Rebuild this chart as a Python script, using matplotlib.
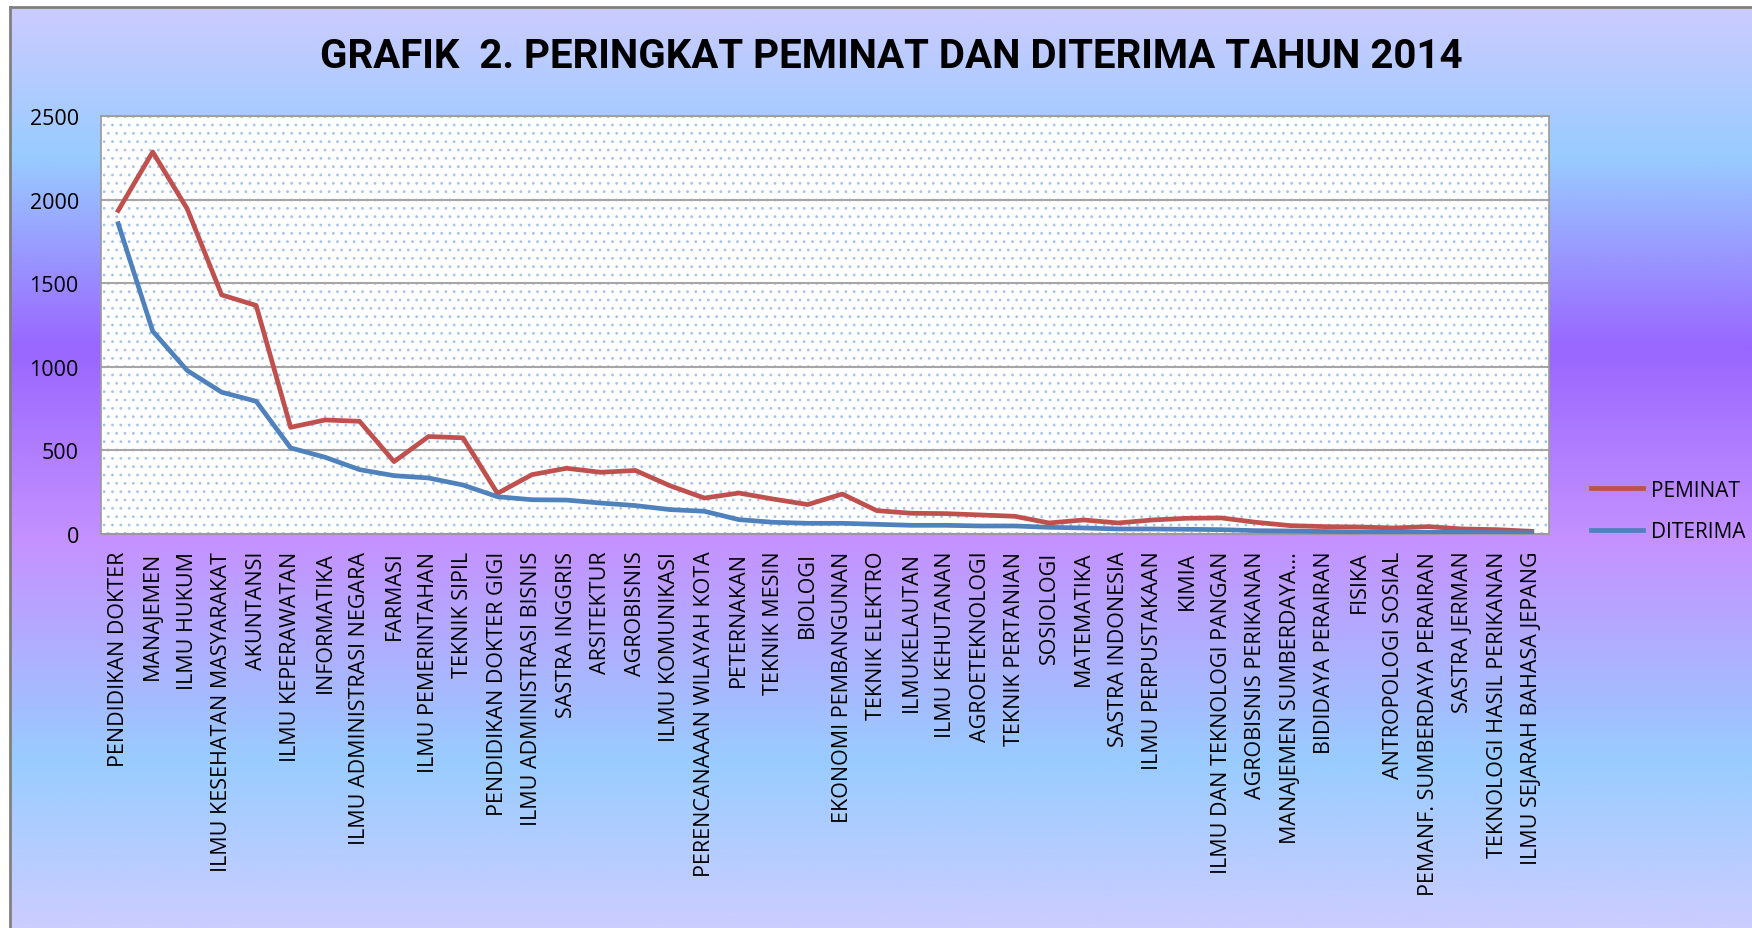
import numpy as np
import matplotlib
matplotlib.use("Agg")
import matplotlib.pyplot as plt
from matplotlib.colors import LinearSegmentedColormap
from matplotlib.patches import Rectangle

# program studi (urut peringkat peminat)
prodi = [
    "PENDIDIKAN DOKTER", "MANAJEMEN", "ILMU HUKUM", "ILMU KESEHATAN MASYARAKAT",
    "AKUNTANSI", "ILMU KEPERAWATAN", "INFORMATIKA", "ILMU ADMINISTRASI NEGARA",
    "FARMASI", "ILMU PEMERINTAHAN", "TEKNIK SIPIL", "PENDIDIKAN DOKTER GIGI",
    "ILMU ADMINISTRASI BISNIS", "SASTRA INGGRIS", "ARSITEKTUR", "AGROBISNIS",
    "ILMU KOMUNIKASI", "PERENCANAAAN WILAYAH KOTA", "PETERNAKAN", "TEKNIK MESIN",
    "BIOLOGI", "EKONOMI PEMBANGUNAN", "TEKNIK ELEKTRO", "ILMUKELAUTAN",
    "ILMU KEHUTANAN", "AGROETEKNOLOGI", "TEKNIK PERTANIAN", "SOSIOLOGI",
    "MATEMATIKA", "SASTRA INDONESIA", "ILMU PERPUSTAKAAN", "KIMIA",
    "ILMU DAN TEKNOLOGI PANGAN", "AGROBISNIS PERIKANAN", "MANAJEMEN SUMBERDAYA...",
    "BIDIDAYA PERAIRAN", "FISIKA", "ANTROPOLOGI SOSIAL", "PEMANF. SUMBERDAYA PERAIRAN",
    "SASTRA JERMAN", "TEKNOLOGI HASIL PERIKANAN", "ILMU SEJARAH BAHASA JEPANG",
]

peminat = [1935, 2285, 1945, 1430, 1367, 638, 682, 674, 433, 583,
           575, 243, 355, 393, 369, 380, 289, 215, 245, 209,
           176, 239, 140, 124, 122, 114, 106, 66, 84, 66,
           84, 94, 96, 70, 50, 44, 42, 36, 44, 30,
           26, 16]

diterima = [1856, 1213, 978, 848, 794, 515, 459, 385, 349, 335,
            293, 223, 205, 203, 185, 170, 146, 136, 86, 70,
            64, 64, 58, 52, 52, 48, 48, 40, 36, 30,
            30, 28, 26, 20, 18, 15, 12, 12, 10, 10,
            8, 7]

yticks = [0, 500, 1000, 1500, 2000, 2500]

plt.rcParams["hatch.linewidth"] = 0.8

fig = plt.figure(figsize=(17.52, 9.29), dpi=100)
fig.patch.set_facecolor("white")

# latar gradasi
bg = fig.add_axes([10 / 1752, 0, 1 - 10 / 1752, 1 - 8 / 929], zorder=-10)
stops = [(0.0, "#cccbff"), (0.16, "#99ccff"), (0.37, "#9966ff"),
         (0.58, "#c592ff"), (0.82, "#99ccff"), (1.0, "#ccccff")]
cmap = LinearSegmentedColormap.from_list("bg", stops)
grad = np.linspace(0, 1, 512).reshape(-1, 1)
bg.imshow(grad, cmap=cmap, aspect="auto", extent=[0, 1, 1, 0])
bg.set_xlim(0, 1)
bg.set_ylim(1, 0)
bg.set_xticks([])
bg.set_yticks([])
for s in ["left", "top"]:
    bg.spines[s].set_color("#808080")
    bg.spines[s].set_linewidth(2)
for s in ["right", "bottom"]:
    bg.spines[s].set_visible(False)

ax = fig.add_axes([101 / 1752, 1 - 535 / 929, 1448 / 1752, 418 / 929])
ax.set_facecolor("white")
ax.add_patch(Rectangle((0, 0), 1, 1, transform=ax.transAxes, facecolor="none",
                       edgecolor="#a8c3ea", linewidth=0, hatch="..", zorder=0))

x = np.arange(len(prodi))
ax.plot(x, peminat, color="#c0504d", lw=3.4, label="PEMINAT", zorder=3)
ax.plot(x, diterima, color="#4f81bd", lw=3.4, label="DITERIMA", zorder=3)

ax.set_xlim(-0.5, len(prodi) - 0.5)
ax.set_ylim(0, 2500)
ax.set_yticks(yticks)
ax.yaxis.grid(True, color="#a6a6a6", lw=1.5, zorder=1)
ax.set_axisbelow(True)
ax.set_xticks(x)
ax.set_xticklabels(prodi, rotation=90, fontsize=15.5, family=["Open Sans", "DejaVu Sans"])
for t in ax.get_yticklabels():
    t.set_fontsize(15.5)
    t.set_family(["Open Sans", "DejaVu Sans"])
ax.tick_params(axis="both", length=0)
ax.tick_params(axis="y", pad=16)
ax.tick_params(axis="x", pad=12)
for s in ax.spines.values():
    s.set_color("#9a9a9a")
    s.set_linewidth(1.2)

fig.text(891 / 1752, 1 - 57 / 929, "GRAFIK  2. PERINGKAT PEMINAT DAN DITERIMA TAHUN 2014",
         ha="center", va="center", fontsize=29, fontweight="bold",
         family=["Roboto", "DejaVu Sans"])

leg = ax.legend(loc="center left", bbox_to_anchor=(1572 / 1752, 1 - 512 / 929),
                bbox_transform=fig.transFigure, frameon=False,
                prop={"family": ["Open Sans", "DejaVu Sans"], "size": 15},
                handlelength=2.5, handletextpad=0.4, labelspacing=1.0)

fig.savefig("out.png", dpi=100)
